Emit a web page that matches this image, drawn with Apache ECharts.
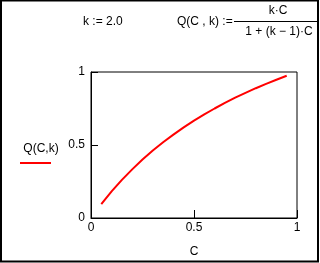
<!DOCTYPE html>
<html><head><meta charset="utf-8">
<script src="https://cdn.jsdelivr.net/npm/echarts@6/dist/echarts.min.js"></script>
<style>html,body{margin:0;padding:0;background:#fff}#c{width:320px;height:263px}</style>
</head><body><div id="c"></div>
<script>
var cValues = [0.05,0.10,0.15,0.20,0.25,0.30,0.35,0.40,0.45,0.50,0.55,0.60,0.65,0.70,0.75,0.80,0.85,0.90,0.95];
var qValues = [0.095,0.182,0.261,0.333,0.400,0.462,0.519,0.571,0.621,0.667,0.710,0.750,0.788,0.824,0.857,0.889,0.919,0.947,0.974];
var xTicks = [0, 0.5, 1];
var yTicks = [0, 0.5, 1];
var seriesName = 'Q(C,k)';
var xName = 'C';

var font = 'Arial, "Liberation Sans", sans-serif';
var chart = echarts.init(document.getElementById('c'), null, {renderer:'canvas'});
var pts = cValues.map(function(c,i){return [c, qValues[i]];});
function fmt(v){return v===0.5?'0.5':String(v);}
chart.setOption({
  animation:false,
  backgroundColor:'#fff',
  grid:{left:91,top:72,width:206,height:152,show:true,borderColor:'#000',borderWidth:1,backgroundColor:'transparent'},
  xAxis:{type:'value',min:xTicks[0],max:xTicks[xTicks.length-1],interval:0.5,
    name:xName,nameLocation:'middle',nameGap:28,nameTextStyle:{color:'#000',fontSize:12,fontFamily:font},
    axisLine:{show:true,lineStyle:{color:'#000',width:1}},
    axisTick:{show:true,inside:true,length:8,lineStyle:{color:'#000'}},
    axisLabel:{color:'#000',fontSize:12,lineHeight:8,fontFamily:font,margin:6,formatter:fmt},
    splitLine:{show:false}},
  yAxis:{type:'value',min:yTicks[0],max:yTicks[yTicks.length-1],interval:0.5,
    axisLine:{show:true,lineStyle:{color:'#000',width:1}},
    axisTick:{show:true,inside:true,length:7,lineStyle:{color:'#000'}},
    axisLabel:{color:'#000',fontSize:12,lineHeight:8,fontFamily:font,margin:6,formatter:fmt},
    splitLine:{show:false}},
  series:[{type:'line',name:seriesName,data:pts,showSymbol:false,smooth:false,
    lineStyle:{color:'#ff0000',width:2},itemStyle:{color:'#ff0000'}}],
  graphic:[
    {type:'rect',shape:{x:1,y:0.5,width:317,height:261},style:{fill:'none',stroke:'#000',lineWidth:2},silent:true},
    {type:'text',left:83,top:16,style:{text:'k := 2.0',fill:'#000',font:'12px '+font}},
    {type:'text',left:177,top:16,style:{text:'Q(C , k) :=',fill:'#000',font:'12px '+font}},
    {type:'text',x:278,y:11,style:{text:'k\u00b7C',fill:'#000',font:'12px '+font,textAlign:'center',textVerticalAlign:'middle'}},
    {type:'line',shape:{x1:234,y1:21.5,x2:317,y2:21.5},style:{stroke:'#000',lineWidth:1}},
    {type:'text',x:279,y:32,style:{text:'1 + (k \u2212 1)\u00b7C',fill:'#000',font:'12px '+font,textAlign:'center',textVerticalAlign:'middle'}},
    {type:'text',x:41,y:149,style:{text:seriesName,fill:'#000',font:'12px '+font,textAlign:'center',textVerticalAlign:'middle'}},
    {type:'line',shape:{x1:20,y1:163,x2:51,y2:163},style:{stroke:'#ff0000',lineWidth:2}}
  ]
});
</script></body></html>
